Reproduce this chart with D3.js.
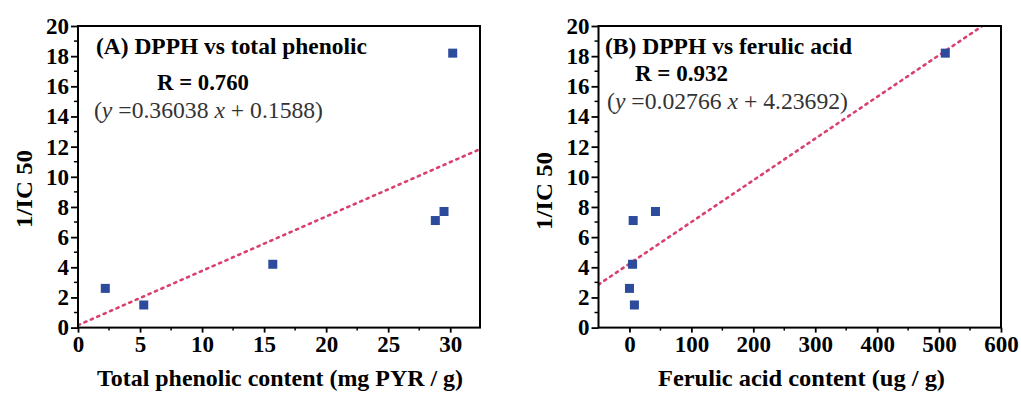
<!DOCTYPE html>
<html><head><meta charset="utf-8">
<script src="https://cdn.jsdelivr.net/npm/d3@7"></script>
<style>
body{margin:0;background:#fff;}
</style></head>
<body><svg id="c" width="1021" height="398" font-family="Liberation Serif"></svg>
<script>
// Data
const ic50Inv = [2.6, 1.5, 4.2, 7.1, 7.7, 18.2];
const phenolic = [2.2, 5.3, 15.7, 28.8, 29.5, 30.2];
const ferulic = [0, 8, 5, 6, 42, 510];
const yTicks = [0, 2, 4, 6, 8, 10, 12, 14, 16, 18, 20];
const xTicksA = [0, 5, 10, 15, 20, 25, 30];
const xTicksB = [0, 100, 200, 300, 400, 500, 600];
const fitA = {slope: 0.36038, intercept: 0.1588};
const fitB = {slope: 0.02766, intercept: 4.23692};
const titles = ["(A) DPPH vs total phenolic", "(B) DPPH vs ferulic acid"];
const rTexts = ["R = 0.760", "R = 0.932"];
const eqSlope = ["0.36038", "0.02766"];
const eqIntercept = ["0.1588", "4.23692"];
const xTitles = ["Total phenolic content  (mg PYR / g)", "Ferulic acid content   (ug / g)"];
const yTitle = "1/IC 50";

const FF = "Liberation Serif";
const svg = d3.select("#c");
svg.append("rect").attr("width",1021).attr("height",398).attr("fill","#fff");

const panels = [
  {x0:78, x1:480, dom:[0,32.4], xs:phenolic, ticks:xTicksA, minorStep:2.5, fit:fitA,
   title:[96,54,271], r:[157,90,92], eq:[94,118,229], xl:[97,386,366], yl:[32,189]},
  {x0:598.5, x1:1001, dom:[-50,600], xs:ferulic, ticks:xTicksB, minorStep:50, fit:fitB,
   title:[605,54,247], r:[635,81,93], eq:[607,109,241], xl:[658,386,287], yl:[552,191]}
];
const yTop = 26, yBot = 327.6;

function txt(sel){ return sel.attr("font-family",FF).attr("fill","#000"); }

panels.forEach((p,i) => {
  const x = d3.scaleLinear().domain(p.dom).range([p.x0, p.x1]);
  const y = d3.scaleLinear().domain([0,20]).range([yBot, yTop]);
  const g = svg.append("g");

  const cid = "clip"+i;
  svg.append("clipPath").attr("id",cid).append("rect")
    .attr("x",p.x0).attr("y",yTop).attr("width",p.x1-p.x0).attr("height",yBot-yTop);

  // fit line
  const line = d3.line().x(d=>x(d)).y(d=>y(p.fit.slope*d + p.fit.intercept));
  g.append("path").datum([p.dom[0], p.dom[1]])
    .attr("d", line).attr("clip-path","url(#"+cid+")")
    .attr("fill","none").attr("stroke","#d9406e").attr("stroke-width",2.6)
    .attr("stroke-dasharray","2.2,4.8").attr("stroke-linecap","round");

  // points
  g.selectAll("rect.pt").data(p.xs.map((v,k)=>[v, ic50Inv[k]])).enter().append("rect")
    .attr("class","pt")
    .attr("x", d=>x(d[0])-4.5).attr("y", d=>y(d[1])-4.5)
    .attr("width",9).attr("height",9).attr("fill","#2d4b9c");

  // frame
  g.append("rect").attr("x",p.x0).attr("y",yTop).attr("width",p.x1-p.x0).attr("height",yBot-yTop)
    .attr("fill","none").attr("stroke","#000").attr("stroke-width",2);

  // y axis
  const yAx = d3.axisLeft(y).tickValues(yTicks).tickSize(7).tickPadding(2).tickFormat(d3.format("d"));
  const ya = g.append("g").attr("transform",`translate(${p.x0},0)`).call(yAx)
    .attr("font-family",FF).attr("font-size",23).attr("font-weight","bold");
  ya.select(".domain").remove();
  ya.selectAll("line").attr("stroke","#000").attr("stroke-width",1.8);
  ya.selectAll("text").call(txt);
  g.selectAll("line.ym").data(d3.range(1,20,2)).enter().append("line")
    .attr("x1",p.x0).attr("x2",p.x0-4).attr("y1",d=>y(d)).attr("y2",d=>y(d))
    .attr("stroke","#000").attr("stroke-width",1.5);

  // x axis
  const xAx = d3.axisBottom(x).tickValues(p.ticks).tickSize(5).tickPadding(3).tickFormat(d3.format("d"));
  const xa = g.append("g").attr("transform",`translate(0,${yBot})`).call(xAx)
    .attr("font-family",FF).attr("font-size",23).attr("font-weight","bold");
  xa.select(".domain").remove();
  xa.selectAll("line").attr("stroke","#000").attr("stroke-width",1.8);
  xa.selectAll("text").call(txt);
  const xMinor = d3.range(p.dom[0], p.dom[1]+0.001, p.minorStep).filter(v => p.ticks.indexOf(v) < 0 && v>p.dom[0]);
  g.selectAll("line.xm").data(xMinor).enter().append("line")
    .attr("x1",d=>x(d)).attr("x2",d=>x(d)).attr("y1",yBot).attr("y2",yBot+3)
    .attr("stroke","#000").attr("stroke-width",1.5);

  // texts
  g.append("text").call(txt).attr("x",p.title[0]).attr("y",p.title[1]).attr("font-size",23)
    .attr("font-weight","bold").attr("textLength",p.title[2]).attr("lengthAdjust","spacingAndGlyphs")
    .text(titles[i]);
  g.append("text").call(txt).attr("x",p.r[0]).attr("y",p.r[1]).attr("font-size",23)
    .attr("font-weight","bold").attr("textLength",p.r[2]).attr("lengthAdjust","spacingAndGlyphs")
    .text(rTexts[i]);
  const eq = g.append("text").call(txt).attr("x",p.eq[0]).attr("y",p.eq[1]).attr("font-size",23)
    .attr("fill","#333").attr("textLength",p.eq[2]).attr("lengthAdjust","spacingAndGlyphs");
  eq.append("tspan").text("(");
  eq.append("tspan").attr("font-style","italic").text("y");
  eq.append("tspan").text(" =" + eqSlope[i] + " ");
  eq.append("tspan").attr("font-style","italic").text("x");
  eq.append("tspan").text(" + " + eqIntercept[i] + ")");

  g.append("text").call(txt).attr("x",p.xl[0]).attr("y",p.xl[1])
    .attr("font-size",23).attr("font-weight","bold")
    .attr("textLength",p.xl[2]).attr("lengthAdjust","spacingAndGlyphs").text(xTitles[i]);
  g.append("text").call(txt).attr("transform",`translate(${p.yl[0]},${p.yl[1]}) rotate(-90)`)
    .attr("text-anchor","middle").attr("font-size",23).attr("font-weight","bold")
    .attr("textLength",78).attr("lengthAdjust","spacingAndGlyphs").text(yTitle);
});
</script></body></html>
